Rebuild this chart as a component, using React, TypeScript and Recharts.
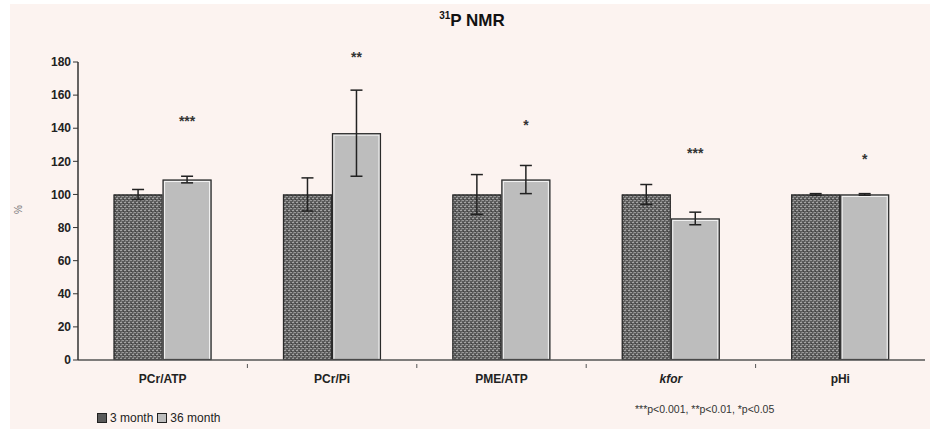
import React from "react";
import { Bar, BarChart, ErrorBar, LabelList, XAxis, YAxis } from "recharts";

const categories = ["PCr/ATP", "PCr/Pi", "PME/ATP", "kfor", "pHi"];
const month3 = [100, 100, 100, 100, 100];
const month3Err = [3, 10, 12, 6, 0.5];
const month36 = [109, 137, 109, 85.5, 100];
const month36Err = [2, 26, 8.5, 3.8, 0.5];
const significance = ["***", "**", "*", "***", "*"];
const sigPos = [146, 185, 143.5, 127, 123.5];
const yTicks = [0, 20, 40, 60, 80, 100, 120, 140, 160, 180];

const data = categories.map((name, i) => ({
  name,
  m3: month3[i],
  m3Err: month3Err[i],
  m36: month36[i],
  m36Err: month36Err[i],
}));

const W = 920;
const H = 425;
const margin = { top: 58, right: 5, left: 28, bottom: 39 };
const yAxisWidth = 40;
const plotWidth = W - margin.left - margin.right - yAxisWidth;
const step = plotWidth / categories.length;

const font = "'Liberation Sans', Arial, sans-serif";
const bg = "#fcf3f0";

const PatternBar = (props: any) => {
  const { x, y, width, height } = props;
  if (!height) return null;
  return (
    <g>
      <rect x={x} y={y} width={width} height={height} fill="url(#checker)" />
      <rect x={x + 0.5} y={y + 0.5} width={width - 1} height={height - 1} fill="none" stroke="#2a2a2a" strokeWidth={1.2} />
    </g>
  );
};

const GreyBar = (props: any) => {
  const { x, y, width, height } = props;
  if (!height) return null;
  return (
    <g>
      <rect x={x} y={y} width={width} height={height} fill="#bdbdbd" />
      <rect x={x + 2} y={y + 2} width={width - 4} height={height - 2} fill="none" stroke="#f4f4f4" strokeWidth={1} />
      <rect x={x + 0.5} y={y + 0.5} width={width - 1} height={height - 1} fill="none" stroke="#2a2a2a" strokeWidth={1.2} />
    </g>
  );
};

const CategoryTick = (props: any) => {
  const { x, y, payload, index } = props;
  const label = payload.value as string;
  return (
    <g>
      {index > 0 && (
        <line x1={x - step / 2} x2={x - step / 2} y1={y - 4} y2={y} stroke="#555" strokeWidth={1} />
      )}
      <text
        x={x}
        y={y + 15}
        textAnchor="middle"
        fontFamily={font}
        fontSize={12}
        fontWeight="bold"
        fontStyle={label === "kfor" ? "italic" : "normal"}
        fill="#222"
      >
        {label}
      </text>
    </g>
  );
};

const SigLabel = (props: any) => {
  const { x, y, width, height, index } = props;
  const v = month36[index];
  const yPix = y + height - (sigPos[index] * height) / v;
  return (
    <text
      x={x + width / 2}
      y={yPix + 8}
      textAnchor="middle"
      fontFamily={font}
      fontSize={14}
      fontWeight="bold"
      fill="#333"
    >
      {significance[index]}
    </text>
  );
};

export default function App() {
  return (
    <div style={{ position: "absolute", left: 10, top: 4, width: W, height: H, background: bg, fontFamily: font, overflow: "hidden" }}>
      <div
        style={{
          position: "absolute",
          top: 6,
          left: 4,
          width: W - 4,
          textAlign: "center",
          fontSize: 17,
          fontWeight: "bold",
          color: "#111",
        }}
      >
        <sup style={{ fontSize: 10 }}>31</sup>P NMR
      </div>
      <div
        style={{
          position: "absolute",
          left: 4,
          top: 200,
          fontSize: 10,
          color: "#777",
          transform: "rotate(-90deg)",
        }}
      >
        %
      </div>
      <div style={{ position: "absolute", left: 0, top: 0 }}>
        <BarChart width={W} height={H} data={data} margin={margin} barCategoryGap="21%" barGap={0} accessibilityLayer={false}>
          <defs>
            <pattern id="checker" width="4" height="4" patternUnits="userSpaceOnUse">
              <rect width="4" height="4" fill="#5a5a5a" />
              <rect x="0" y="0" width="2" height="1" fill="#999" />
              <rect x="2" y="2" width="2" height="1" fill="#a4a4a4" />
              <rect x="3" y="0" width="1" height="2" fill="#7a7a7a" />
              <rect x="1" y="3" width="1" height="1" fill="#3e3e3e" />
            </pattern>
          </defs>
          <XAxis
            dataKey="name"
            axisLine={{ stroke: "#555", strokeWidth: 1.5 }}
            tickLine={false}
            tick={<CategoryTick />}
            interval={0}
            height={30}
          />
          <YAxis
            width={yAxisWidth}
            domain={[0, 180]}
            ticks={yTicks}
            interval={0}
            axisLine={{ stroke: "#333", strokeWidth: 1.5 }}
            tickLine={{ stroke: "#333" }}
            tickSize={5}
            tick={{ fontFamily: font, fontSize: 12, fontWeight: "bold", fill: "#222" }}
          />
          <Bar dataKey="m3" shape={<PatternBar />} isAnimationActive={false}>
            <ErrorBar dataKey="m3Err" direction="y" width={6} stroke="#222" strokeWidth={1.5} />
          </Bar>
          <Bar dataKey="m36" shape={<GreyBar />} isAnimationActive={false}>
            <ErrorBar dataKey="m36Err" direction="y" width={6} stroke="#222" strokeWidth={1.5} />
            <LabelList dataKey="m36" content={<SigLabel />} />
          </Bar>
        </BarChart>
      </div>
      <div style={{ position: "absolute", left: 87, top: 407, fontSize: 12, color: "#222", display: "flex", alignItems: "center" }}>
        <span style={{ display: "inline-block", width: 8, height: 8, background: "#5a5a5a", border: "1px solid #222", marginRight: 3 }} />
        3 month
        <span style={{ display: "inline-block", width: 8, height: 8, background: "#bdbdbd", border: "1px solid #222", marginLeft: 4, marginRight: 3 }} />
        36 month
      </div>
      <div style={{ position: "absolute", left: 625, top: 399, fontSize: 10.5, color: "#333" }}>
        ***p&lt;0.001, **p&lt;0.01, *p&lt;0.05
      </div>
    </div>
  );
}
